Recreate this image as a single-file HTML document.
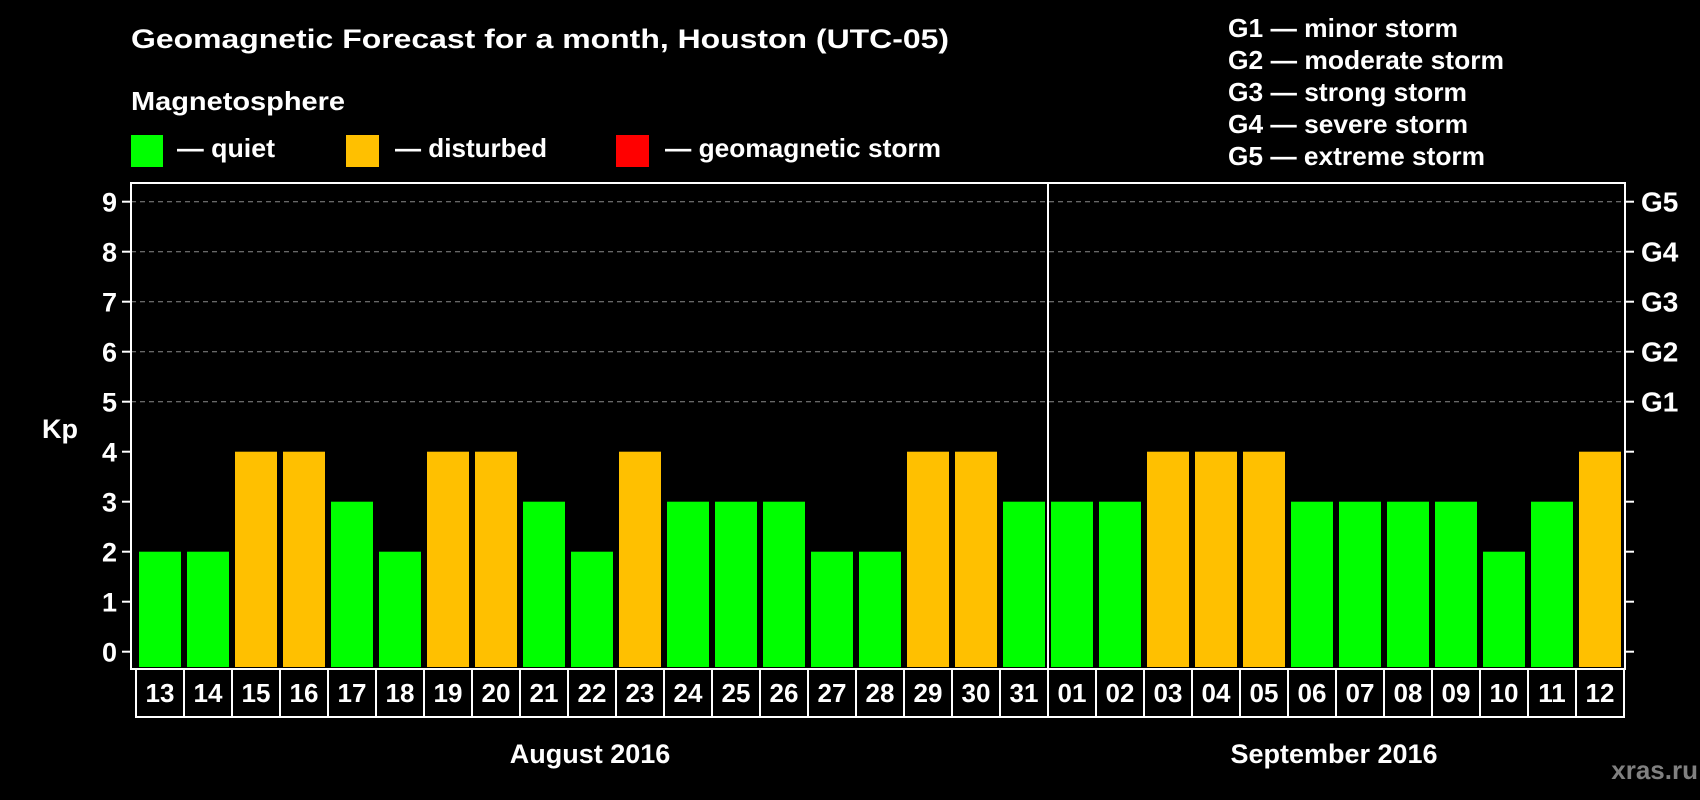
<!DOCTYPE html>
<html><head><meta charset="utf-8"><style>
html,body{margin:0;padding:0;background:#000;}
svg{display:block;}
text{font-family:"Liberation Sans",Arial,sans-serif;font-weight:bold;fill:#fff;}
</style></head><body>
<svg id="chart" width="1700" height="800" viewBox="0 0 1700 800">
<rect x="0" y="0" width="1700" height="800" fill="#000"/>
<text x="131" y="48" font-size="27" textLength="818" lengthAdjust="spacingAndGlyphs">Geomagnetic Forecast for a month, Houston (UTC-05)</text>
<text x="131" y="110" font-size="26" textLength="214" lengthAdjust="spacingAndGlyphs">Magnetosphere</text>
<g>
<rect x="131" y="135" width="32" height="32" fill="#00ff00"/>
<text x="177" y="157" font-size="26" textLength="98" lengthAdjust="spacingAndGlyphs">— quiet</text>
</g>
<g>
<rect x="346" y="135" width="33" height="32" fill="#ffc000"/>
<text x="395" y="157" font-size="26" textLength="152" lengthAdjust="spacingAndGlyphs">— disturbed</text>
</g>
<g>
<rect x="616" y="135" width="33" height="32" fill="#ff0000"/>
<text x="665" y="157" font-size="26" textLength="276" lengthAdjust="spacingAndGlyphs">— geomagnetic storm</text>
</g>
<g>
<text x="1228" y="37" font-size="26" textLength="230" lengthAdjust="spacingAndGlyphs">G1 — minor storm</text>
<text x="1228" y="69" font-size="26" textLength="276" lengthAdjust="spacingAndGlyphs">G2 — moderate storm</text>
<text x="1228" y="101" font-size="26" textLength="239" lengthAdjust="spacingAndGlyphs">G3 — strong storm</text>
<text x="1228" y="133" font-size="26" textLength="240" lengthAdjust="spacingAndGlyphs">G4 — severe storm</text>
<text x="1228" y="165" font-size="26" textLength="257" lengthAdjust="spacingAndGlyphs">G5 — extreme storm</text>
</g>
<g id="grid"></g>
<g id="bars"></g>
<g id="axes"></g>
<text x="42" y="438" font-size="27">Kp</text>
<text x="590" y="763" font-size="27" text-anchor="middle">August 2016</text>
<text x="1334" y="763" font-size="27" text-anchor="middle">September 2016</text>
<text x="1698" y="779" font-size="26" fill="#808080" style="fill:#808080" text-anchor="end">xras.ru</text>
</svg>
<script>
const days = ["13","14","15","16","17","18","19","20","21","22","23","24","25","26","27","28","29","30","31","01","02","03","04","05","06","07","08","09","10","11","12"];
const kpValues = [2,2,4,4,3,2,4,4,3,2,4,3,3,3,2,2,4,4,3,3,3,4,4,4,3,3,3,3,2,3,4];
const yTicks = [0,1,2,3,4,5,6,7,8,9];
const gLabels = ["G1","G2","G3","G4","G5"];
const gLevels = [5,6,7,8,9];
const monthBreakIndex = 19;

const NS = "http://www.w3.org/2000/svg";
const frameL = 131, frameR = 1625, frameT = 183, frameB = 669;
const barStart = 136, step = 48, barW = 42;
function yScale(v){ return 651.7 - 50 * v; }
function xScale(i){ return barStart + i * step; }
function mk(tag, attrs, parent){ const e = document.createElementNS(NS, tag); for (const k in attrs) e.setAttribute(k, attrs[k]); parent.appendChild(e); return e; }
function colorFor(v){ return v >= 5 ? "#ff0000" : (v >= 4 ? "#ffc000" : "#00ff00"); }

const grid = document.getElementById("grid");
const bars = document.getElementById("bars");
const axes = document.getElementById("axes");

gLevels.forEach((lv, i) => {
  const l = mk("line", {x1: frameL, x2: frameR, y1: yScale(lv), y2: yScale(lv), stroke: "#8a8a8a", "stroke-width": 1, "stroke-dasharray": "5,4"}, grid);
  
  
});

kpValues.forEach((v, i) => {
  const x = xScale(i) + 3;
  const r = mk("rect", {x: x, y: yScale(v), width: barW, height: 667 - yScale(v), fill: colorFor(v)}, bars);
  
  
});

const frame = mk("rect", {x: frameL, y: frameT, width: frameR - frameL, height: frameB - frameT, fill: "none", stroke: "#fff", "stroke-width": 2}, axes);



const divX = xScale(monthBreakIndex);
const div = mk("line", {x1: divX, x2: divX, y1: frameT, y2: frameB, stroke: "#fff", "stroke-width": 2}, axes);



yTicks.forEach(t => {
  const y = yScale(t);
  const tl = mk("line", {x1: 122, x2: frameL, y1: y, y2: y, stroke: "#fff", "stroke-width": 2}, axes);
  
  
  const tr = mk("line", {x1: frameR, x2: 1634, y1: y, y2: y, stroke: "#fff", "stroke-width": 2}, axes);
  
  
  const lab = mk("text", {x: 117, y: y + 10, "font-size": 27, "text-anchor": "end"}, axes);
  lab.textContent = String(t);
  
  
});

gLabels.forEach((g, i) => {
  const lab = mk("text", {x: 1641, y: yScale(gLevels[i]) + 10, "font-size": 28}, axes);
  lab.textContent = g;
  
  
});

const boxB = mk("line", {x1: xScale(0), x2: xScale(days.length), y1: 717, y2: 717, stroke: "#fff", "stroke-width": 2}, axes);


for (let i = 0; i <= days.length; i++) {
  const v = mk("line", {x1: xScale(i), x2: xScale(i), y1: 669, y2: 718, stroke: "#fff", "stroke-width": 2}, axes);
  
  
}
days.forEach((d, i) => {
  const t = mk("text", {x: xScale(i) + step / 2, y: 702, "font-size": 26, "text-anchor": "middle"}, axes);
  t.textContent = d;
  
  
});
</script>
</body></html>
